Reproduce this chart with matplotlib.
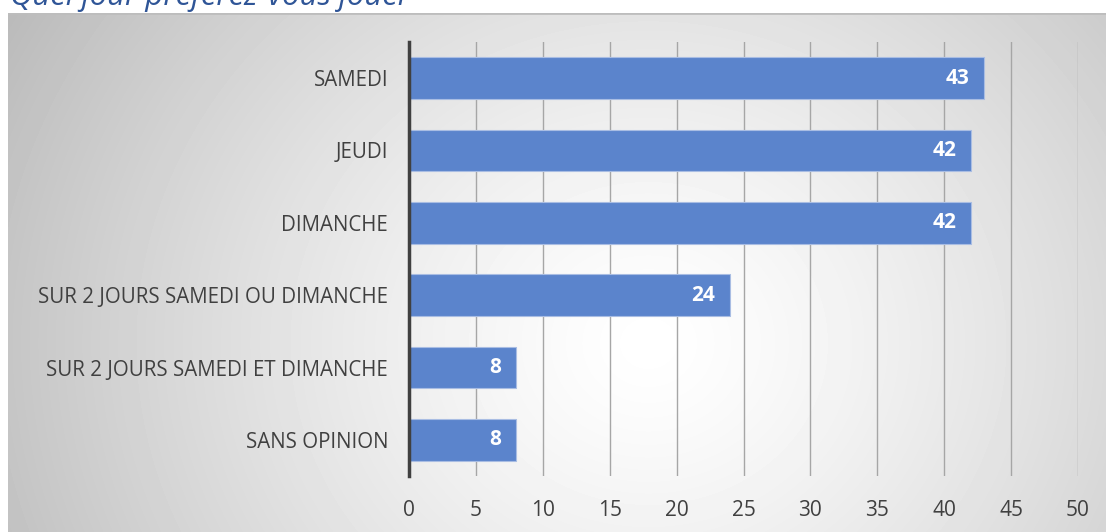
import numpy as np
import matplotlib.pyplot as plt

categories = ["SAMEDI", "JEUDI", "DIMANCHE", "SUR 2 JOURS SAMEDI OU DIMANCHE",
              "SUR 2 JOURS SAMEDI ET DIMANCHE", "SANS OPINION"]
values = [43, 42, 42, 24, 8, 8]
ticks = [0, 5, 10, 15, 20, 25, 30, 35, 40, 45, 50]
title = "Quel jour préférez-vous jouer"

W, H = 1106, 532
fig = plt.figure(figsize=(W / 100, H / 100), dpi=100)
fig.patch.set_facecolor("white")

# radial grey gradient behind the chart
bg = fig.add_axes([8 / W, 0, 1 - 8 / W, 1 - 13 / H])
yy, xx = np.mgrid[0:519, 0:1098]
cx, cy = 640, 330
r = np.sqrt(((xx - cx) / 1.0) ** 2 + ((yy - cy) / 0.9) ** 2)
r = r / r.max()
shade = 1.0 - 0.27 * np.clip(r, 0, 1) ** 1.3
bg.imshow(shade, cmap="gray", vmin=0, vmax=1, aspect="auto",
          extent=[0, 1, 0, 1], origin="upper")
bg.axhline(1, color="#bdbdbd", lw=2)
bg.set_axis_off()

fig.text(10 / W, 1 - 5 / H, title, fontsize=22.4, style="italic", color="#2f5597",
         va="baseline", ha="left", family="Open Sans")

ax = fig.add_axes([409 / W, 1 - 476 / H, (1078 - 409) / W, (476 - 42) / H])
ax.patch.set_alpha(0)
y = np.arange(len(categories))
bars = ax.barh(y, values, height=0.58, color="#5b84cc", edgecolor="#a9bde3", lw=0.8, zorder=2)
ax.set_ylim(len(categories) - 0.5, -0.5)
ax.set_xlim(0, 50)
ax.set_xticks(ticks)
ax.set_yticks(y)
ax.set_yticklabels(categories, fontsize=14.8, color="#404040", family="Open Sans")
ax.set_xticklabels([str(t) for t in ticks], fontsize=15, color="#404040", family="Open Sans")
ax.tick_params(length=0)
ax.tick_params(axis="y", pad=15)
ax.tick_params(axis="x", pad=17)
ax.grid(axis="x", color="#a6a6a6", lw=1, zorder=0)
for s in ["top", "right", "bottom"]:
    ax.spines[s].set_visible(False)
ax.spines["left"].set_color("#404040")
ax.spines["left"].set_linewidth(2.5)
ax.spines["left"].set_zorder(3)

for b, v in zip(bars, values):
    ax.text(v - 1.1, b.get_y() + b.get_height() / 2, str(v), color="white",
            fontsize=15, fontweight="bold", ha="right", va="center",
            family="Open Sans", zorder=4)

fig.savefig("out.png", dpi=100)
